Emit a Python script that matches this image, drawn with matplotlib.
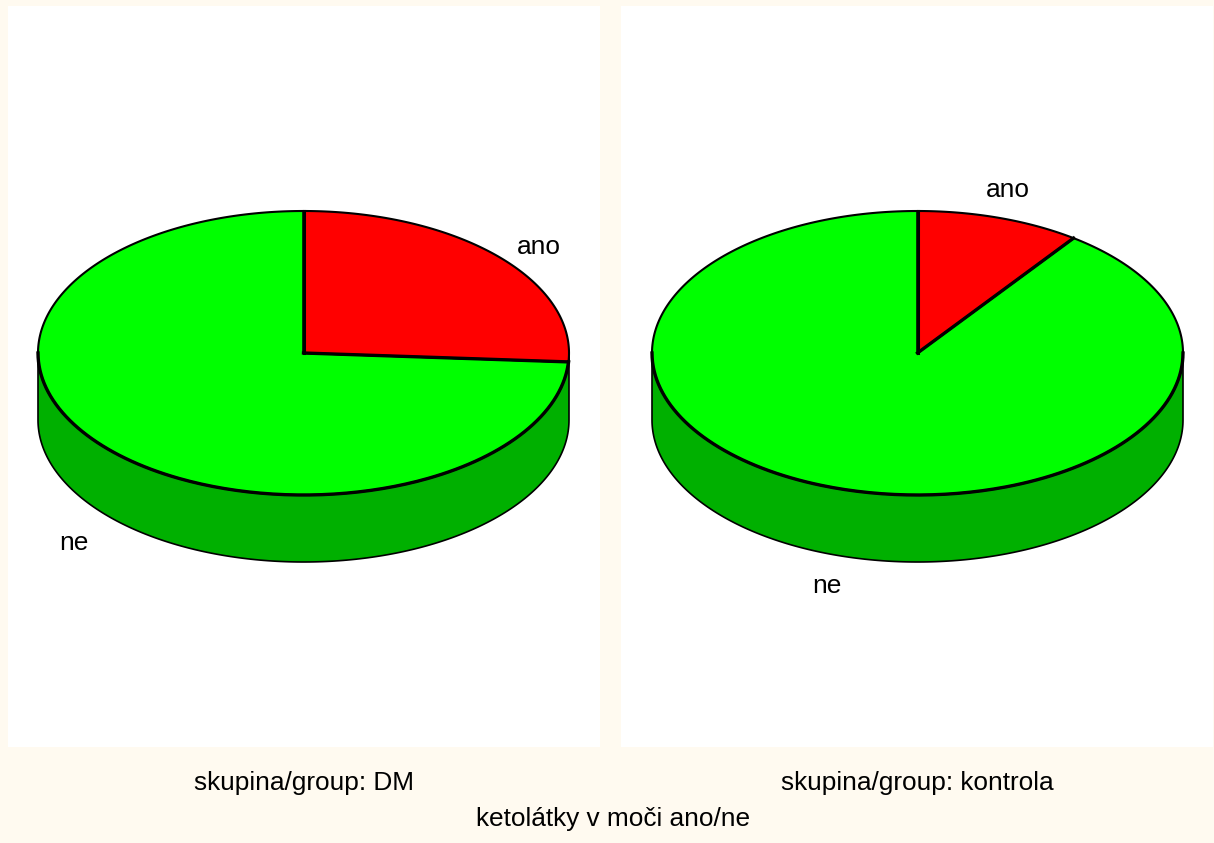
import matplotlib
matplotlib.use("Agg")
from matplotlib import pyplot as plt
import numpy as np

# share of "ano" / "ne" in each group (percent)
groups = ["skupina/group: DM", "skupina/group: kontrola"]
categories = ["ano", "ne"]
ano_values = [26.0, 10.0]
ne_values = [74.0, 90.0]
axis_title = "ketolátky v moči ano/ne"

plt.rcParams['font.family'] = ['Liberation Sans', 'DejaVu Sans']

RED = "#FF0000"
GREEN = "#00FF00"
DARK_GREEN = "#00B000"
BG = "#FFFAF0"

# pie geometry in panel pixels
RX, RY, DEPTH = 265.5, 142, 67


def ell(t, cx, cy, off=0):
    # t = degrees clockwise from the top of the pie
    r = np.radians(t)
    return cx + RX * np.sin(r), cy - RY * np.cos(r) + off


def pie3d(ax, cx, cy, ano, ne):
    # side wall, front half only
    t = np.linspace(90, 270, 200)
    x0, y0 = ell(t, cx, cy)
    x1, y1 = ell(t[::-1], cx, cy, DEPTH)
    ax.fill(np.r_[x0, x1], np.r_[y0, y1], fc=DARK_GREEN, ec="black", lw=1.2,
            joinstyle="round", zorder=1)

    split = 360 * ano / (ano + ne)
    t_red = np.linspace(0, split, 120)
    t_green = np.linspace(split, 360, 300)
    for ts, col in [(t_green, GREEN), (t_red, RED)]:
        x, y = ell(ts, cx, cy)
        ax.fill(np.r_[cx, x], np.r_[cy, y], fc=col, ec="black", lw=1.5,
                joinstyle="round", zorder=2)

    # slice borders and front rim look heavier in the original
    sx, sy = ell(split, cx, cy)
    ax.plot([cx, sx], [cy, sy], color="black", lw=2.4, zorder=3)
    ax.plot([cx, cx], [cy, cy - RY], color="black", lw=2.2, zorder=3)
    t_front = np.linspace(max(split, 90), 270, 200)
    fx, fy = ell(t_front, cx, cy)
    ax.plot(fx, fy, color="black", lw=2.4, zorder=3)


fig = plt.figure(figsize=(12.14, 8.43), dpi=100, facecolor=BG)

panels = [(8, 600), (621, 1213)]
centers = [303.5, 917.5]
label_pos = [[(539, 247), (74, 543)], [(1008, 190), (827, 586)]]
group_x = [304, 917.5]

ax = fig.add_axes([0, 0, 1, 1])
ax.set_xlim(0, 1214)
ax.set_ylim(843, 0)
ax.axis("off")

for i in range(2):
    x0, x1 = panels[i]
    ax.fill_between([x0, x1], 6, 747, color="white", lw=0, zorder=0)
    pie3d(ax, centers[i], 353, ano_values[i], ne_values[i])
    for name, (lx, ly) in zip(categories, label_pos[i]):
        ax.text(lx, ly, name, fontsize=18.9, ha="center", va="center", color="black")
    ax.text(group_x[i], 783, groups[i], fontsize=18.9, ha="center", va="center", color="black")

ax.text(613.5, 819, axis_title, fontsize=18.9, ha="center", va="center", color="black")

fig.savefig("out.png", dpi=100, facecolor=BG)
